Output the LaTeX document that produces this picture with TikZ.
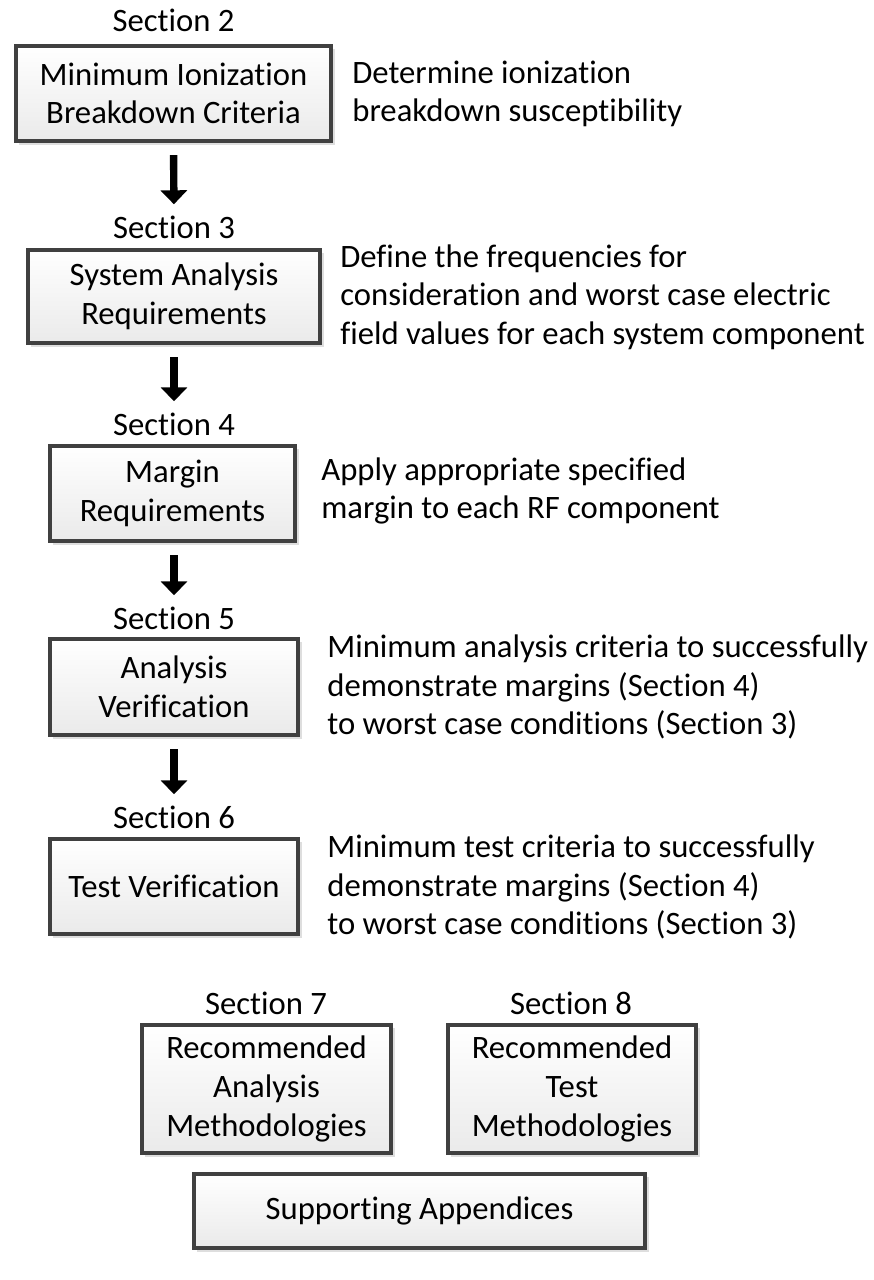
\documentclass[tikz,border=0pt]{standalone}
\usepackage{fontspec}
\setmainfont[Ligatures=NoCommon]{Carlito}
\usepackage{xcolor}
\usetikzlibrary{arrows.meta, positioning, shadows}
\definecolor{edge}{HTML}{404040}
\definecolor{shade}{HTML}{EAEAEA}
\definecolor{ghost}{HTML}{C8C8C8}
\tikzset{
  secbox/.style={
    rectangle, draw=edge, line width=2.2pt,
    top color=white, bottom color=shade,
    drop shadow={shadow xshift=2pt, shadow yshift=-2pt, fill=ghost, opacity=0.6},
    align=center, inner sep=2pt,
    font=\fontsize{18.6pt}{22pt}\selectfont
  },
  seclabel/.style={inner sep=0pt, font=\fontsize{18.6pt}{22pt}\selectfont},
  note/.style={anchor=west, align=left, inner sep=0pt, font=\fontsize{18.6pt}{22pt}\selectfont},
  flowarrow/.style={-{Triangle[width=0.52cm, length=0.28cm]}, line width=4.2pt, draw=black,
    shorten <=0.24cm, shorten >=0.22cm},
}

\begin{document}
\begin{tikzpicture}[x=0.02cm, y=-0.02cm]
  \useasboundingbox (0,0) rectangle (874,1280);

  % main chain of sections
  \node[secbox, minimum width=6.31cm, minimum height=1.91cm] (ion) at (173.5,93.5)
    {Minimum Ionization\\Breakdown Criteria};
  \node[seclabel] (sec2) at (173.5,20) {Section 2};
  \node[note] (ionnote) at (352,94) {Determine ionization\\breakdown susceptibility};

  \node[secbox, minimum width=5.85cm, minimum height=1.87cm] (sysreq) at (174,296.5)
    {System Analysis\\Requirements};
  \node[seclabel] (sec3) at (174,227) {Section 3};
  \node[note] (sysnote) at (340,297)
    {Define the frequencies for\\consideration and worst case electric\\field values for each system component};

  \node[secbox, minimum width=4.91cm, minimum height=1.91cm] (margin) at (172.5,493.5)
    {Margin\\Requirements};
  \node[seclabel] (sec4) at (174,424) {Section 4};
  \node[note] (marginnote) at (321,491)
    {Apply appropriate specified\\margin to each RF component};

  \node[secbox, minimum width=4.97cm, minimum height=1.93cm] (anaver) at (174,687)
    {Analysis\\Verification};
  \node[seclabel] (sec5) at (174,618) {Section 5};
  \node[note] (ananote) at (327,687)
    {Minimum analysis criteria to successfully\\demonstrate margins (Section 4)\\to worst case conditions (Section 3)};

  \node[secbox, minimum width=4.97cm, minimum height=1.91cm] (testver) at (174,886.5)
    {Test Verification};
  \node[seclabel] (sec6) at (174,817) {Section 6};
  \node[note] (testnote) at (327,887)
    {Minimum test criteria to successfully\\demonstrate margins (Section 4)\\to worst case conditions (Section 3)};

  % methodology boxes
  \node[secbox, minimum width=4.99cm, minimum height=2.57cm] (anameth) at (266.5,1089)
    {Recommended\\Analysis\\Methodologies};
  \node[seclabel] (sec7) at (266,1003) {Section 7};
  \node[secbox, minimum width=4.97cm, minimum height=2.57cm] (testmeth) at (572,1089)
    {Recommended\\Test\\Methodologies};
  \node[seclabel] (sec8) at (571,1003) {Section 8};

  \node[secbox, minimum width=9.03cm, minimum height=1.49cm] (appx) at (419.5,1211)
    {Supporting Appendices};

  \draw[flowarrow] (ion.south) -- (sec3.north);
  \draw[flowarrow] (sysreq.south) -- (sec4.north);
  \draw[flowarrow] (margin.south -| sec4) -- (sec5.north);
  \draw[flowarrow] (anaver.south) -- (sec6.north);
\end{tikzpicture}
\end{document}
